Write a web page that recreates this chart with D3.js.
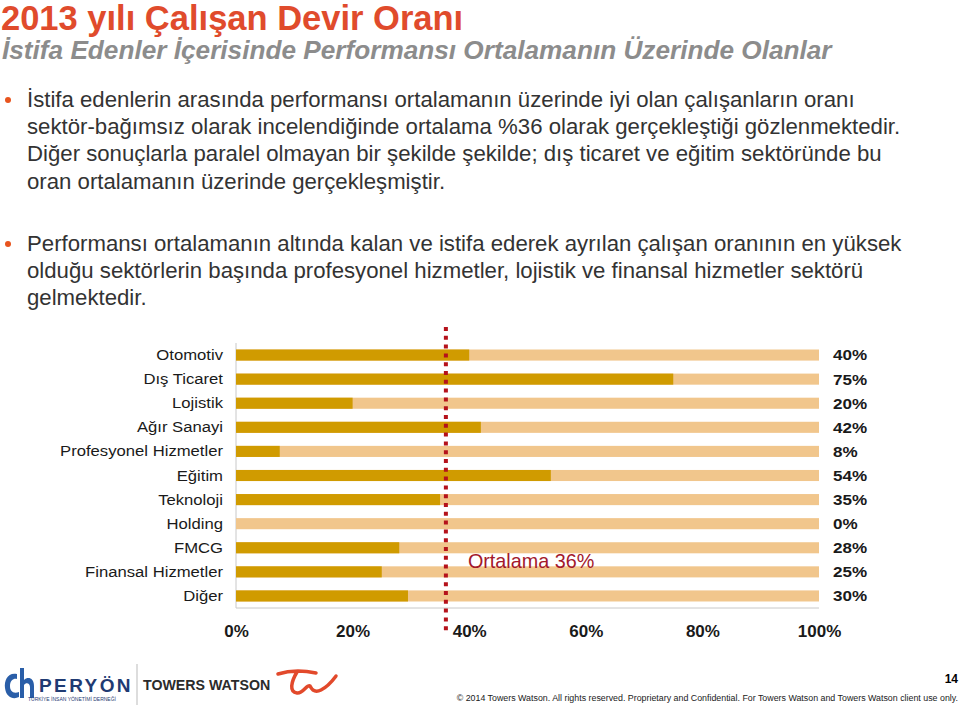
<!DOCTYPE html>
<html>
<head>
<meta charset="utf-8">
<script src="https://cdn.jsdelivr.net/npm/d3@7"></script>
<style>
  body { margin: 0; background: #fff; }
  svg { display: block; font-family: Arial, "Liberation Sans", sans-serif; }
</style>
</head>
<body>
<svg width="960" height="706"></svg>
<script>
;(function (d3) {
  var svg = d3.select('svg')

  // sector names and resignation share of above-average performers
  var categories = ['Otomotiv', 'Dış Ticaret', 'Lojistik', 'Ağır Sanayi', 'Profesyonel Hizmetler',
    'Eğitim', 'Teknoloji', 'Holding', 'FMCG', 'Finansal Hizmetler', 'Diğer']
  var values = [0.40, 0.75, 0.20, 0.42, 0.075, 0.54, 0.35, 0, 0.28, 0.25, 0.295]
  var valueLabels = ['40%', '75%', '20%', '42%', '8%', '54%', '35%', '0%', '28%', '25%', '30%']
  var average = 0.36
  var ticks = [0, 0.2, 0.4, 0.6, 0.8, 1]
  var tickLabels = ['0%', '20%', '40%', '60%', '80%', '100%']

  var bullets = [
    ['İstifa edenlerin arasında performansı ortalamanın üzerinde iyi olan çalışanların oranı',
      'sektör-bağımsız olarak incelendiğinde ortalama %36 olarak gerçekleştiği gözlenmektedir.',
      'Diğer sonuçlarla paralel olmayan bir şekilde şekilde; dış ticaret ve eğitim sektöründe bu',
      'oran ortalamanın üzerinde gerçekleşmiştir.'],
    ['Performansı ortalamanın altında kalan ve istifa ederek ayrılan çalışan oranının en yüksek',
      'olduğu sektörlerin başında profesyonel hizmetler, lojistik ve finansal hizmetler sektörü',
      'gelmektedir.']
  ]

  // title
  svg.append('text')
    .attr('x', 1).attr('y', 30)
    .style('font-size', '34.5px').style('font-weight', 'bold')
    .style('fill', '#e04b2c')
    .text('2013 yılı Çalışan Devir Oranı')
  svg.append('text')
    .attr('x', 2).attr('y', 59)
    .style('font-size', '26.2px').style('font-style', 'italic').style('font-weight', 'bold')
    .style('fill', '#8c8c8c')
    .text('İstifa Edenler İçerisinde Performansı Ortalamanın Üzerinde Olanlar')

  // bullet text
  var lineH = 27.2
  var tops = [107, 251]
  bullets.forEach(function (lines, b) {
    svg.append('circle')
      .attr('cx', 8).attr('cy', tops[b] - 7).attr('r', 3)
      .style('fill', '#e8541e')
    lines.forEach(function (ln, i) {
      svg.append('text')
        .attr('x', 27).attr('y', tops[b] + i * lineH)
        .style('font-size', '22.2px')
        .style('fill', '#333')
        .text(ln)
    })
  })

  // chart
  var x = d3.scaleLinear().domain([0, 1]).range([236, 819])
  var y = d3.scaleBand().domain(categories).range([343, 608]).paddingInner(0.54).paddingOuter(0.27)

  svg.append('path')
    .attr('d', 'M' + x(0) + ',343V608H' + x(1))
    .style('fill', 'none').style('stroke', '#c8c8c8').style('stroke-width', 1)

  var rows = svg.selectAll('g.row')
    .data(categories)
    .enter()
    .append('g')
    .attr('class', 'row')

  rows.append('rect')
    .attr('x', x(0))
    .attr('y', function (d) { return y(d) })
    .attr('width', x(1) - x(0))
    .attr('height', y.bandwidth())
    .style('fill', '#f1c68c')

  rows.append('rect')
    .attr('x', x(0))
    .attr('y', function (d) { return y(d) })
    .attr('width', function (d, i) { return x(values[i]) - x(0) })
    .attr('height', y.bandwidth())
    .style('fill', '#d09b00')

  // labels are a bit wider than plain Arial in the original
  rows.append('text')
    .attr('transform', function (d) {
      return 'translate(223,' + (y(d) + y.bandwidth() / 2) + ') scale(1.15,1)'
    })
    .attr('dy', '0.35em')
    .attr('text-anchor', 'end')
    .style('font-size', '14.5px')
    .style('fill', '#1a1a1a')
    .text(function (d) { return d })

  rows.append('text')
    .attr('transform', function (d) {
      return 'translate(833,' + (y(d) + y.bandwidth() / 2) + ') scale(1.1,1)'
    })
    .attr('dy', '0.35em')
    .style('font-size', '15.5px').style('font-weight', 'bold')
    .style('fill', '#1a1a1a')
    .text(function (d, i) { return valueLabels[i] })

  // x axis
  var axis = svg.append('g')
    .attr('transform', 'translate(0,622)')
    .call(d3.axisBottom(x).tickValues(ticks).tickSize(0)
      .tickFormat(function (d, i) { return tickLabels[i] }))
  axis.select('.domain').remove()
  axis.selectAll('text')
    .style('font-size', '17px').style('font-weight', 'bold')
    .style('font-family', 'Arial, "Liberation Sans", sans-serif')
    .style('fill', '#1a1a1a')

  // average line
  svg.append('line')
    .attr('x1', x(average)).attr('x2', x(average))
    .attr('y1', 327).attr('y2', 632)
    .style('stroke', '#b5121b').style('stroke-width', 4)
    .style('stroke-dasharray', '4 4.8')
  svg.append('text')
    .attr('x', x(average) + 22).attr('y', 568)
    .style('font-size', '19.8px')
    .style('fill', '#a3182b')
    .text('Ortalama 36%')

  // footer
  var logo = svg.append('g')
  logo.append('path')
    .attr('d', 'M17,674 C8,672 4,680 5,688 C6,697 13,700 19,697 L19,692 C13,694 10,691 10,686 C10,680 14,678 17,679 Z')
    .style('fill', '#2a5ea8')
  logo.append('path')
    .attr('d', 'M20,668 L24,668 L24,680 C28,676 34,678 34,686 L34,698 L30,698 L30,687 C30,683 26,682 24,685 L24,698 L20,698 Z')
    .style('fill', '#2a5ea8')
  logo.append('text')
    .attr('x', 39).attr('y', 692)
    .style('font-size', '19px').style('font-weight', 'bold')
    .style('letter-spacing', '2.4px').style('fill', '#1f3b73')
    .text('PERYÖN')
  logo.append('text')
    .attr('x', 28).attr('y', 701)
    .style('font-size', '5px').style('fill', '#1f3b73')
    .text('TÜRKİYE İNSAN YÖNETİMİ DERNEĞİ')
  logo.append('line')
    .attr('x1', 137).attr('x2', 137).attr('y1', 664).attr('y2', 705)
    .style('stroke', '#bbb').style('stroke-width', 1)
  logo.append('text')
    .attr('x', 143).attr('y', 690)
    .style('font-size', '14.2px').style('font-weight', 'bold')
    .style('fill', '#2b2b2b')
    .text('TOWERS WATSON')
  logo.append('path')
    .attr('d', 'M278,674 C291,670 306,671 316,673 M297,672 C291,682 289,692 297,693 C303,694 307,684 310,686 C312,690 315,693 321,690 C329,686 333,680 336,676')
    .style('fill', 'none').style('stroke', '#e2492b').style('stroke-width', 3.5)
    .style('stroke-linecap', 'round')

  svg.append('text')
    .attr('x', 958).attr('y', 683)
    .attr('text-anchor', 'end')
    .style('font-size', '12px').style('font-weight', 'bold')
    .text('14')
  svg.append('text')
    .attr('x', 958).attr('y', 701)
    .attr('text-anchor', 'end')
    .style('font-size', '8.85px').style('fill', '#1a1a1a')
    .text('© 2014 Towers Watson. All rights reserved. Proprietary and Confidential. For Towers Watson and Towers Watson client use only.')
})(window.d3)
</script>
</body>
</html>
